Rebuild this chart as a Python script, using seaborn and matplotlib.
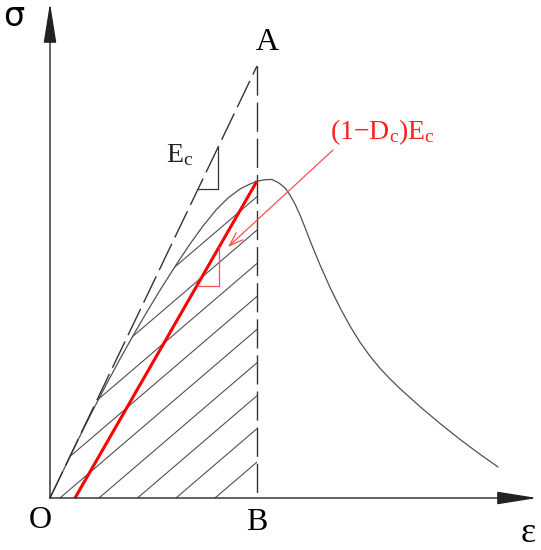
import numpy as np
import pandas as pd
import matplotlib
matplotlib.use("Agg")
import matplotlib.pyplot as plt
import seaborn as sns
from matplotlib.patches import Polygon

# ---------------- data (schematic units measured from the origin O) ----------------
curve_eps = [0, 14, 28, 42, 56, 70, 84, 98, 112, 126, 140, 153, 166, 178, 190, 200, 208, 215, 222,
             229, 235, 240, 245, 250, 255, 261, 270, 280, 290, 300, 310, 320, 330, 340, 350,
             370, 390, 410, 430, 448]
curve_sig = [0, 29, 58, 86, 113, 139, 164, 188, 211, 233, 254, 272, 288, 300, 309, 314, 317, 318.3, 318.5,
             315, 310, 303, 294, 283, 270.5, 255, 233.1, 210.6, 190.3, 172, 155.8, 141.8, 129.7, 119.1, 109.4,
             91.4, 74.5, 58.6, 43.7, 31]
eps_B = 207           # strain at point B
sig_A = 432           # elastic stress at point A (Ec * eps_B)
sig_peak = 317        # stress on the curve at B
eps_residual = 25     # where the damaged unloading line meets the axis
hatch_offsets = [165, 126, 87.5, 49, 10, -28.5, -67, -106, -145]
hatch_slope = 0.856
labels = {"sigma": "σ", "eps": "ε", "O": "O", "A": "A", "B": "B"}

# ---------------- style ----------------
sns.set_theme(style="white")
plt.rcParams["font.family"] = ["Liberation Serif", "DejaVu Sans"]
plt.rcParams["mathtext.fontset"] = "custom"
plt.rcParams["mathtext.rm"] = "Liberation Serif"
plt.rcParams["mathtext.it"] = "Liberation Serif:italic"

fig = plt.figure(figsize=(5.41, 5.50), dpi=100)
ax = fig.add_axes([0, 0, 1, 1])
ax.set_xlim(-50, 491)
ax.set_ylim(-52, 498)
ax.axis("off")

gray = "#505050"
red = "#ff0000"

# stress-strain curve
df = pd.DataFrame({"eps": curve_eps, "sig": curve_sig})
sns.lineplot(data=df, x="eps", y="sig", sort=False, estimator=None,
             color=gray, lw=0.9, ax=ax)

# hatched area under curve up to B
clip_pts = [(e, s) for e, s in zip(curve_eps, curve_sig) if e <= eps_B] + [(eps_B, sig_peak), (eps_B, 0.0)]
clip = Polygon(clip_pts, closed=True, fill=False, edgecolor="none", transform=ax.transData)
ax.add_patch(clip)
for e0 in hatch_offsets:
    x0 = min(e0, 0) - 100
    ln, = ax.plot([x0, eps_B], [hatch_slope * (x0 - e0), hatch_slope * (eps_B - e0)],
                  color=gray, lw=0.8)
    ln.set_clip_path(clip)

# dashed elastic line O-A and vertical A-B
ax.plot([0, eps_B], [0, sig_A], color="#333333", lw=1.0, dashes=(21, 5))
ax.plot([eps_B, eps_B], [sig_A, 0], color="#333333", lw=1.0, dashes=(21, 5))

# damaged secant (red)
ax.plot([eps_residual, eps_B], [0, sig_peak], color=red, lw=2.2, solid_capstyle="butt")

# small slope triangles
ec = sig_A / eps_B
tri_s, tri_e = 309, 168
ax.plot([tri_s / ec, tri_e, tri_e], [tri_s, tri_s, ec * tri_e], color="#333333", lw=0.9)
rslope = sig_peak / (eps_B - eps_residual)
rt_s, rt_e = 212, 169
ax.plot([eps_residual + rt_s / rslope, rt_e, rt_e],
        [rt_s, rt_s, rslope * (rt_e - eps_residual)], color="#ff5050", lw=0.9)

# axes with arrows
ax.annotate("", xy=(0, 495), xytext=(0, 0),
            arrowprops=dict(arrowstyle="-|>,head_length=2.5,head_width=0.4", mutation_scale=10,
                            color="#222222", lw=1.0, shrinkA=0, shrinkB=0))
ax.annotate("", xy=(487, 0), xytext=(0, 0),
            arrowprops=dict(arrowstyle="-|>,head_length=2.5,head_width=0.4", mutation_scale=10,
                            color="#222222", lw=1.0, shrinkA=0, shrinkB=0))

# red annotation arrow + label
ax.annotate("", xy=(178, 251), xytext=(283, 348),
            arrowprops=dict(arrowstyle="->,head_length=1.0,head_width=0.35", mutation_scale=10,
                            color="#ff5050", lw=0.9, shrinkA=0, shrinkB=0))
ax.text(280, 366, r"$\mathrm{(1{-}D_c)E_c}$", color="#ff2020", fontsize=20,
        ha="left", va="center")

# text labels
ax.text(130, 343, r"$\mathrm{E_c}$", color="#222222", fontsize=20, ha="center", va="center")
ax.text(-36, 481, labels["sigma"], fontsize=24, ha="center", va="center", color="black",
        family=["DejaVu Sans"])
ax.text(217, 455, labels["A"], fontsize=23, ha="center", va="center", color="black")
ax.text(-10, -23, labels["O"], fontsize=23, ha="center", va="center", color="black")
ax.text(207, -25, labels["B"], fontsize=23, ha="center", va="center", color="black")
ax.text(478, -36, labels["eps"], fontsize=26, ha="center", va="center", color="black")

fig.savefig("out.png", dpi=100)
